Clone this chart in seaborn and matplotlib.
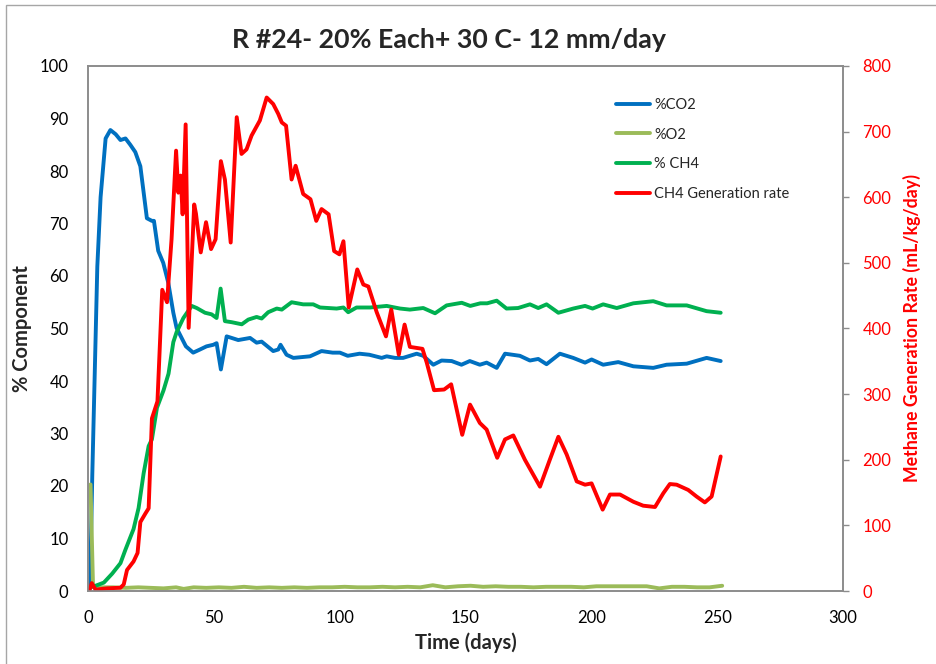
import matplotlib
matplotlib.use("Agg")
import matplotlib.pyplot as plt
from matplotlib.patches import Rectangle
import seaborn as sns

# --- data -------------------------------------------------------------
co2_days = [0.8, 1.7, 3.7, 5, 7, 8.9, 11, 12.9, 14.9, 16.8, 18.8, 20.8, 23.4, 25.4,
            26.2, 27.9, 29.9, 31.9, 33.9, 35.2, 37.2, 38.9, 41.8, 44.5, 47.1, 49.8,
            51.1, 52.8, 55.1, 57.1, 59.7, 64.4, 67, 69, 73.6, 75.6, 76.5, 78.9, 81.6,
            88.2, 92.8, 97.2, 100.1, 103.2, 107.9, 111.8, 116.7, 118.7, 122, 125.2,
            130.6, 133.2, 137.2, 140.5, 144.5, 148.4, 151.7, 155.7, 158.4, 162.4,
            165.7, 171.6, 175.6, 178.9, 182.2, 187.5, 192.8, 197.5, 200.1, 204.7,
            210.7, 216.7, 224.6, 229.9, 237.9, 245.8, 251.4]
co2_pct = [0.5, 22, 61.8, 75, 86.2, 87.8, 87, 85.9, 86.2, 85, 83.6, 80.9, 71, 70.5,
           70.5, 64.8, 62.5, 58.7, 53, 50.1, 48.2, 46.6, 45.4, 46, 46.6, 46.9,
           47.2, 42.2, 48.5, 48.2, 47.8, 48.2, 47.3, 47.5, 45.7, 46, 46.9, 45, 44.4,
           44.7, 45.7, 45.4, 45.4, 44.8, 45.2, 45, 44.4, 44.7, 44.4, 44.4,
           45.2, 44.8, 43.1, 43.9, 43.8, 43.1, 43.8, 43.1, 43.5, 42.5,
           45.2, 44.8, 43.9, 44.2, 43.2, 45.2, 44.4, 43.5, 44.1, 43.1,
           43.6, 42.8, 42.5, 43.1, 43.3, 44.4, 43.8]

o2_days = [1, 2, 5, 10, 15, 20, 25, 30, 35, 38, 42, 47, 52, 57, 62, 67, 72, 77, 82,
           87, 92, 97, 102, 107, 112, 117, 122, 127, 132, 137, 142, 147, 152, 157,
           162, 167, 172, 177, 182, 187, 192, 197, 202, 207, 212, 217, 222, 227,
           232, 237, 242, 247, 252]
o2_pct = [20.3, 0.8, 0.7, 0.7, 0.6, 0.7, 0.6, 0.5, 0.7, 0.4, 0.7, 0.6, 0.7, 0.6,
          0.8, 0.6, 0.7, 0.6, 0.7, 0.6, 0.7, 0.7, 0.8, 0.7, 0.7, 0.8, 0.7, 0.8,
          0.7, 1.1, 0.7, 0.9, 1.0, 0.8, 0.9, 0.8, 0.8, 0.7, 0.8, 0.8, 0.8, 0.7,
          0.9, 0.9, 0.9, 0.9, 0.9, 0.5, 0.8, 0.8, 0.7, 0.7, 1.0]

ch4_days = [1.5, 3, 6.3, 9.6, 12.9, 14.9, 18.1, 20.1, 22.1, 24.1, 25.4, 27.4, 30, 32,
            33.9, 35.2, 37.9, 41.2, 43.2, 46.5, 49.1, 51.1, 52.7, 54.4, 57.1, 61.1,
            63.7, 67, 69, 71.6, 75, 77, 80.9, 85.5, 89.5, 92.2, 98.8, 101.5, 103.4,
            106.7, 112.1, 118.7, 124, 127.9, 133.2, 137.9, 142.5, 148.5, 151.9,
            155.9, 158.6, 162.4, 166.3, 170.9, 175.6, 178.9, 182.2, 186.9, 192.8,
            197.5, 200.5, 204.7, 210.1, 216.7, 224.6, 229.9, 237.9, 245.8, 251.4]
ch4_pct = [0.8, 1, 1.6, 3.3, 5.3, 7.9, 11.8, 15.8, 22.4, 27.6, 28.9, 34.9, 38.2, 41.4,
           47.4, 49.3, 52, 54.3, 53.9, 53, 52.7, 52, 57.6, 51.4, 51.2, 50.8,
           51.7, 52.2, 51.9, 53.1, 53.8, 53.6, 55, 54.6, 54.6, 54, 53.8, 54, 53.1,
           54, 54, 54.3, 53.8, 53.6, 53.9, 52.9, 54.4, 54.9, 54.3,
           54.8, 54.8, 55.3, 53.8, 53.9, 54.6, 53.9, 54.6, 53.0, 53.8,
           54.3, 53.8, 54.6, 53.9, 54.8, 55.2, 54.4, 54.4, 53.3, 53.0]

rate_days = [0.5, 1.5, 3, 7.6, 12.9, 14.2, 15.5, 18.1, 19.7, 20.8, 22.8, 24.1, 25.4,
             27.6, 29.5, 31.4, 33.2, 35, 35.9, 36.8, 37.6, 38.8, 40, 42.2, 42.9, 44.8,
             46.9, 48.9, 50.7, 52.8, 54.4, 56.7, 59.1, 61, 63, 65, 68.3, 71, 73.6,
             75.6, 77, 78.7, 80.9, 82.5, 85.5, 88.4, 90.7, 92.8, 95.6, 97.8, 99.9,
             101.5, 103.6, 107, 109.4, 111.4, 114.7, 118.4, 120.5, 123.5, 125.8,
             127.9, 132.9, 134.6, 137.5, 141.5, 144.3, 148.7, 151.8, 155.7, 158.4,
             162.6, 165.7, 169, 173.6, 179.6, 183.5, 186.9, 190.2, 194.2, 197.5,
             200.1, 204.5, 207.4, 211.4, 216.7, 220.6, 225.3, 228.6, 231.2, 233.9,
             238.5, 241.8, 245.1, 247.8, 251.4]
rate_ml = [0, 12, 2, 4, 5, 10, 32, 45, 58, 105, 118, 126, 263,
           289, 459, 440, 536, 671, 607, 633, 574, 711, 401, 589, 575, 516,
           562, 521, 536, 655, 627, 531, 722, 666, 673, 694, 717, 752, 742,
           727, 714, 709, 627, 648, 605, 597, 564, 582, 574, 518, 513,
           533, 432, 490, 467, 464, 425, 388, 429, 360, 406,
           372, 369, 348, 306, 307, 315, 238, 284, 256, 246,
           203, 231, 237, 200, 159, 200, 235, 208, 167, 162,
           164, 124, 147, 147, 136, 130, 128, 149, 163, 162,
           154, 144, 135, 144, 205]

x_ticks = [0, 50, 100, 150, 200, 250, 300]
left_ticks = [0, 10, 20, 30, 40, 50, 60, 70, 80, 90, 100]
right_ticks = [0, 100, 200, 300, 400, 500, 600, 700, 800]

title = "R #24- 20% Each+ 30 C- 12 mm/day"

# --- style ------------------------------------------------------------
sns.set_style("white")
plt.rcParams["font.family"] = ["Lato", "DejaVu Sans"]

C_CO2 = "#0070C0"
C_O2 = "#9BBB59"
C_CH4 = "#00B050"
C_RATE = "#FF0000"
C_AXIS = "#8C8C8C"
LW = 2.8

fig = plt.figure(figsize=(9.36, 6.64), dpi=100)
W, H = 936, 664
ax = fig.add_axes([88 / W, 1 - 591 / H, 755 / W, 525 / H])
ax2 = ax.twinx()

line_kw = dict(linewidth=LW, estimator=None, solid_joinstyle="round",
               solid_capstyle="round")
sns.lineplot(x=co2_days, y=co2_pct, ax=ax, color=C_CO2, label="%CO2", **line_kw)
sns.lineplot(x=o2_days, y=o2_pct, ax=ax, color=C_O2, label="%O2", **line_kw)
sns.lineplot(x=ch4_days, y=ch4_pct, ax=ax, color=C_CH4, label="% CH4", **line_kw)
sns.lineplot(x=rate_days, y=rate_ml, ax=ax2, color=C_RATE,
             label="CH4 Generation rate", **line_kw)

ax.set_xlim(0, 300)
ax.set_ylim(0, 100)
ax2.set_ylim(0, 800)
ax.set_xticks(x_ticks)
ax.set_yticks(left_ticks)
ax2.set_yticks(right_ticks)

for a in (ax, ax2):
    for s in a.spines.values():
        s.set_color(C_AXIS)
        s.set_linewidth(1.2)

ax.tick_params(axis="both", length=0, pad=14, labelsize=12, labelcolor="black")
ax2.tick_params(axis="y", length=4, width=1, color=C_AXIS, direction="out",
                pad=10, labelsize=12, labelcolor=C_RATE)

ax.set_xlabel("Time (days)", fontsize=14.5, fontweight="bold")
ax.xaxis.set_label_coords(0.5, (591 - 643) / 525)
ax.xaxis.label.set_va("center")
ax.set_ylabel("% Component", fontsize=14.5, fontweight="bold")
ax.yaxis.set_label_coords((22 - 88) / 755, 0.5)
ax.yaxis.label.set_va("center")
ax2.set_ylabel("Methane Generation Rate (mL/kg/day)", fontsize=12.8,
               fontweight="bold", color=C_RATE)
ax2.yaxis.set_label_coords((912 - 88) / 755, 0.5)
ax2.yaxis.label.set_va("center")

fig.text(449 / W, 1 - 40 / H, title, ha="center", va="center",
         fontsize=19.3, fontweight="bold")

# legend gathered from both axes
h1, l1 = ax.get_legend_handles_labels()
h2, l2 = ax2.get_legend_handles_labels()
ax.get_legend().remove()
ax2.get_legend().remove()
fig.legend(h1 + h2, l1 + l2, loc="upper left",
           bbox_to_anchor=(616 / W, 1 - 98 / H), frameon=False,
           borderaxespad=0, borderpad=0, fontsize=10.5, handlelength=2.33,
           handletextpad=0.27, labelspacing=1.07)

# chart-area outline
fig.patches.append(Rectangle((6 / W, -0.1), 1.2, 1 - 5 / H + 0.1,
                             transform=fig.transFigure, fill=False,
                             edgecolor="#A6A6A6", linewidth=1.0))

fig.savefig("out.png", dpi=100)
